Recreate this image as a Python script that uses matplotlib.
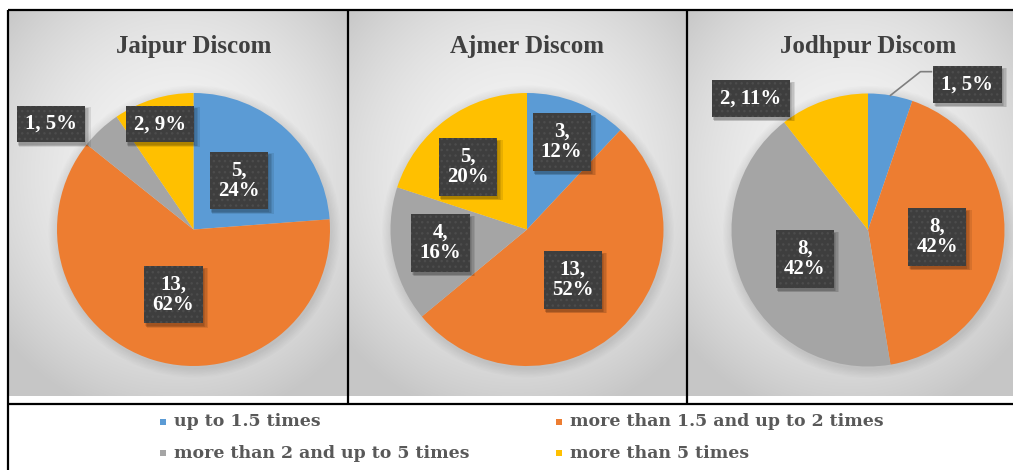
import numpy as np
import matplotlib
matplotlib.use("Agg")
import matplotlib.pyplot as plt
from matplotlib.patches import Circle, Rectangle

# data
discoms = ["Jaipur Discom", "Ajmer Discom", "Jodhpur Discom"]
categories = ["up to 1.5 times", "more than 1.5 and up to 2 times",
              "more than 2 and up to 5 times", "more than 5 times"]
jaipur = [5, 13, 1, 2]
ajmer = [3, 13, 4, 5]
jodhpur = [1, 8, 8, 2]
jaipur_pct = [24, 62, 5, 9]
ajmer_pct = [12, 52, 16, 20]
jodhpur_pct = [5, 42, 42, 11]
colors = ["#5b9bd5", "#ed7d31", "#a5a5a5", "#ffc000"]

W, H = 1013, 470
fig = plt.figure(figsize=(W / 100, H / 100), dpi=100)
ax = fig.add_axes([0, 0, 1, 1])

def Y(y):
    return H - y

# panel layout in pixels (x0, x1), pie centre, radius
panels = [(9, 347), (348, 686), (687, 1013)]
centers = [(193.5, 229.5), (527, 229.5), (868, 230)]
R = 136.5
# label placement: (radius fraction, angle shift, separator)
placing = [
    [(0.49, 0, "\n"), (0.50, 0, "\n"), (1.30, 10.6, " "), (0.81, 0.5, " ")],
    [(0.69, 0, "\n"), (0.50, -1, "\n"), (0.64, -2, "\n"), (0.63, 7.4, "\n")],
    [(1.29, -24.9, " "), (0.51, -1, "\n"), (0.51, 1, "\n"), (1.29, 22.8, " ")],
]
values = [jaipur, ajmer, jodhpur]
pcts = [jaipur_pct, ajmer_pct, jodhpur_pct]

serif = ["Liberation Serif", "DejaVu Serif"]
labels = []

for i in range(3):
    x0, x1 = panels[i]
    y0, y1 = 11, 396
    # radial gradient background
    gx = np.linspace(-1, 1, 200)
    gy = np.linspace(-1, 1, 220)
    XX, YY = np.meshgrid(gx, gy)
    d = np.sqrt(XX ** 2 + ((YY + 0.15) * 1.05) ** 2)
    g = np.clip(0.955 - 0.095 * d ** 2, 0.78, 1)
    img = np.dstack([g, g, g])
    ax.imshow(img, extent=(x0, x1, Y(y1), Y(y0)), origin="upper",
              aspect="auto", zorder=0, interpolation="bilinear")

    cx, cy = centers[i]
    for k in range(1, 9):
        ax.add_patch(Circle((cx + 1, Y(cy) - 2), R + k * 1.2, fc="k",
                            ec="none", alpha=0.012, zorder=1))
    wedges, _ = ax.pie(values[i], colors=colors, startangle=90,
                       counterclock=False, radius=R, center=(cx, Y(cy)),
                       frame=True, wedgeprops=dict(linewidth=0))
    for w in wedges:
        w.set_zorder(2)

    ax.text(cx, Y(47), discoms[i], ha="center", va="center", fontsize=18,
            fontweight="bold", color="#404040", family=serif, zorder=5)

    for j, w in enumerate(wedges):
        frac, shift, sep = placing[i][j]
        mid = np.deg2rad((w.theta1 + w.theta2) / 2 + shift)
        lx = cx + frac * R * np.cos(mid)
        ly = Y(cy) + frac * R * np.sin(mid)
        t = ax.text(lx, ly, f"{values[i][j]},{sep}{pcts[i][j]}%",
                    ha="center", va="center", fontsize=15, fontweight="bold",
                    color="white", family=serif, linespacing=1.05, zorder=7,
                    bbox=dict(boxstyle="square,pad=0.4", facecolor="#3e3e3e",
                              edgecolor="#4c4c4c", hatch="...", linewidth=0))
        labels.append(t)
        if frac > 1.2 and i == 2 and j == 0:
            # leader line to the outside label
            emid = np.deg2rad((w.theta1 + w.theta2) / 2)
            ex = cx + R * np.cos(emid)
            ey = Y(cy) + R * np.sin(emid)
            ax.plot([ex, ex + 30, lx - 36], [ey, ly + 13, ly + 13],
                    color="#7f7f7f", lw=1.2, zorder=4)

# frame lines
lk = dict(color="black", lw=1.6, zorder=8, solid_capstyle="butt")
ax.plot([8, W], [Y(10), Y(10)], **lk)
ax.plot([8, 8], [Y(10), 0], **lk)
ax.plot([347.5, 347.5], [Y(10), Y(404)], **lk)
ax.plot([686.5, 686.5], [Y(10), Y(404)], **lk)
ax.plot([8, W], [Y(404), Y(404)], **lk)

# legend
leg_x = [163, 559]
leg_y = [422, 453]
for j, cat in enumerate(categories):
    lx = leg_x[j % 2]
    ly = Y(leg_y[j // 2])
    ax.add_patch(Rectangle((lx - 3, ly - 3), 6, 6, fc=colors[j], ec="none", zorder=8))
    ax.text(lx + 11, ly, cat, ha="left", va="center", fontsize=12.5,
            fontweight="bold", color="#595959", family=["DejaVu Serif"], zorder=8)

ax.set_xlim(0, W)
ax.set_ylim(0, H)
ax.set_aspect("auto")
ax.axis("off")

# soft shadows behind the label boxes
fig.canvas.draw()
for t in labels:
    bb = t.get_bbox_patch().get_window_extent()
    for k in range(4):
        ax.add_patch(Rectangle((bb.x0 + 1 + k * 0.5, bb.y0 - 3 - k * 0.5),
                               bb.width + k, bb.height + k,
                               fc="k", ec="none", alpha=0.09, zorder=6))

fig.savefig("out.png", dpi=100, facecolor="white")
